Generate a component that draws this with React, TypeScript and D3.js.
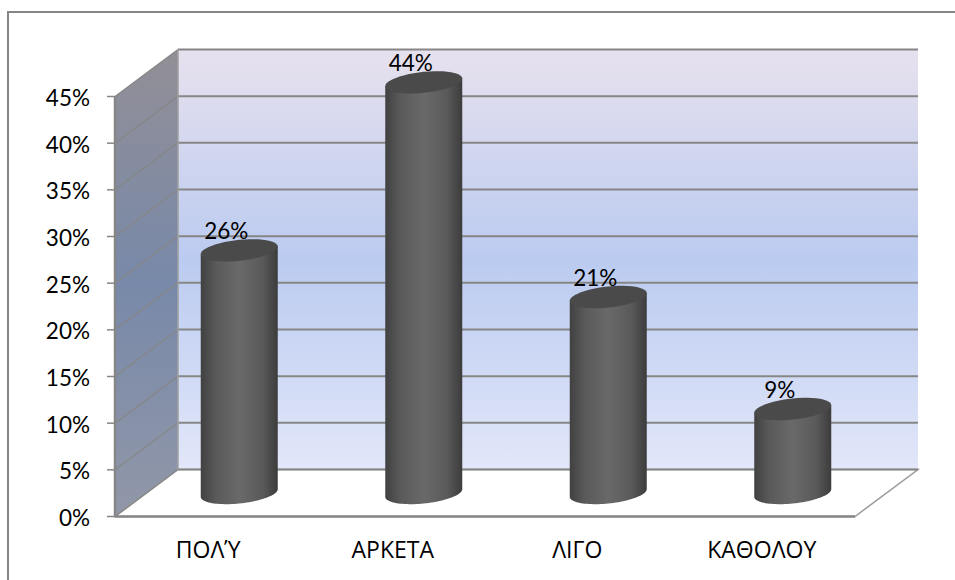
import React from "react";
import * as d3 from "d3";

const categories = ["ΠΟΛΎ", "ΑΡΚΕΤΑ", "ΛΙΓΟ", "ΚΑΘΟΛΟΥ"];
const values = [26, 44, 21, 9];
const ticks = [0, 5, 10, 15, 20, 25, 30, 35, 40, 45];

const W = 955, H = 580;
const fx0 = 115, fx1 = 855, dx = 63, dy = -47;
const y = d3.scaleLinear().domain([0, 45]).range([516.5, 96.5]);
const x = d3.scaleBand<string>().domain(categories).range([fx0 + 32, fx0 + 32 + 738]).padding(0);
const cylBase = 493;
const cylH = (v: number) => y(0) - y(v);
const rx = 38.5, ry = 10.5, skew = -0.1;
const GRID = "#868686";
const FONT = "Lato, sans-serif";
const GREEK = "'Open Sans', sans-serif";

function ellipse(cx: number, cy: number, part: "full" | "lower" = "full") {
  const n = 48;
  const pts: [number, number][] = d3.range(n + 1).map((i) => {
    const t = part === "full" ? (i / n) * 2 * Math.PI : (i / n) * Math.PI;
    const ex = rx * Math.cos(t);
    return [cx + ex, cy + ry * Math.sin(t) + skew * ex];
  });
  return pts;
}
const line = d3.line();

export default function App() {
  return (
    <svg width={W} height={H} style={{ position: "absolute", left: 0, top: 0, background: "#fff" }}>
      <defs>
        <linearGradient id="back" x1="0" y1="0" x2="0" y2="1">
          <stop offset="0" stopColor="#e7e1ee" />
          <stop offset="0.5" stopColor="#bbcbf0" />
          <stop offset="1" stopColor="#e2e7f9" />
        </linearGradient>
        <linearGradient id="side" x1="0" y1="0" x2="0" y2="1">
          <stop offset="0" stopColor="#928f96" />
          <stop offset="0.5" stopColor="#7889a9" />
          <stop offset="1" stopColor="#9197a8" />
        </linearGradient>
        <linearGradient id="cyl" x1="0" y1="0" x2="1" y2="0">
          <stop offset="0" stopColor="#414141" />
          <stop offset="0.2" stopColor="#5a5a5a" />
          <stop offset="0.5" stopColor="#696969" />
          <stop offset="0.8" stopColor="#5a5a5a" />
          <stop offset="1" stopColor="#3c3c3c" />
        </linearGradient>
      </defs>
      <path d={`M8,${H} V12 H${W}`} fill="none" stroke="#868686" strokeWidth={2} />
      <polygon points={`${fx0 + dx},${y(0) + dy} ${fx1 + dx},${y(0) + dy} ${fx1 + dx},${y(45) + dy} ${fx0 + dx},${y(45) + dy}`} fill="url(#back)" />
      <polygon points={`${fx0},${y(0)} ${fx0 + dx},${y(0) + dy} ${fx0 + dx},${y(45) + dy} ${fx0},${y(45)}`} fill="url(#side)" />
      <polygon points={`${fx0},${y(0)} ${fx1},${y(0)} ${fx1 + dx},${y(0) + dy} ${fx0 + dx},${y(0) + dy}`} fill="#fff" stroke="#9a9a9a" strokeWidth={1.5} />
      {ticks.map((t) => (
        <g key={t}>
          <line x1={fx0 + dx} x2={fx1 + dx} y1={y(t) + dy} y2={y(t) + dy} stroke={GRID} strokeWidth={2} />
          <line x1={fx0} x2={fx0 + dx} y1={y(t)} y2={y(t) + dy} stroke={GRID} strokeWidth={1.2} />
          <line x1={fx0 - 8} x2={fx0} y1={y(t)} y2={y(t)} stroke={GRID} strokeWidth={1.5} />
          <text x={90} y={y(t) + 9.5} textAnchor="end" fontSize={22.5} fontFamily={FONT} fill="#000">{t}%</text>
        </g>
      ))}
      <line x1={fx0} x2={fx0} y1={y(0)} y2={y(45)} stroke={GRID} strokeWidth={2.5} />
      <line x1={fx0 + dx} x2={fx0 + dx} y1={y(0) + dy} y2={y(45) + dy} stroke="#a0a0a0" strokeWidth={1.5} />
      <line x1={fx0} x2={fx1} y1={y(0)} y2={y(0)} stroke={GRID} strokeWidth={2.5} />
      {categories.map((c, i) => {
        const cx = x(c)! + x.bandwidth() / 2;
        const top = cylBase - cylH(values[i]);
        const bottom = ellipse(cx, cylBase, "lower");
        const body: [number, number][] = [[cx - rx, top - skew * rx], ...[...bottom].reverse(), [cx + rx, top + skew * rx]];
        return (
          <g key={c}>
            <path d={line(body)! + "Z"} fill="url(#cyl)" />
            <path d={line(ellipse(cx, top))! + "Z"} fill="#4a4a4a" />
            <text x={cx - 13} y={top - 11} textAnchor="middle" fontSize={22.5} fontFamily={FONT} fill="#000">{values[i]}%</text>
            <text x={cx - 31} y={558} textAnchor="middle" fontSize={23} fontFamily={GREEK} fill="#000">{c}</text>
          </g>
        );
      })}
    </svg>
  );
}
